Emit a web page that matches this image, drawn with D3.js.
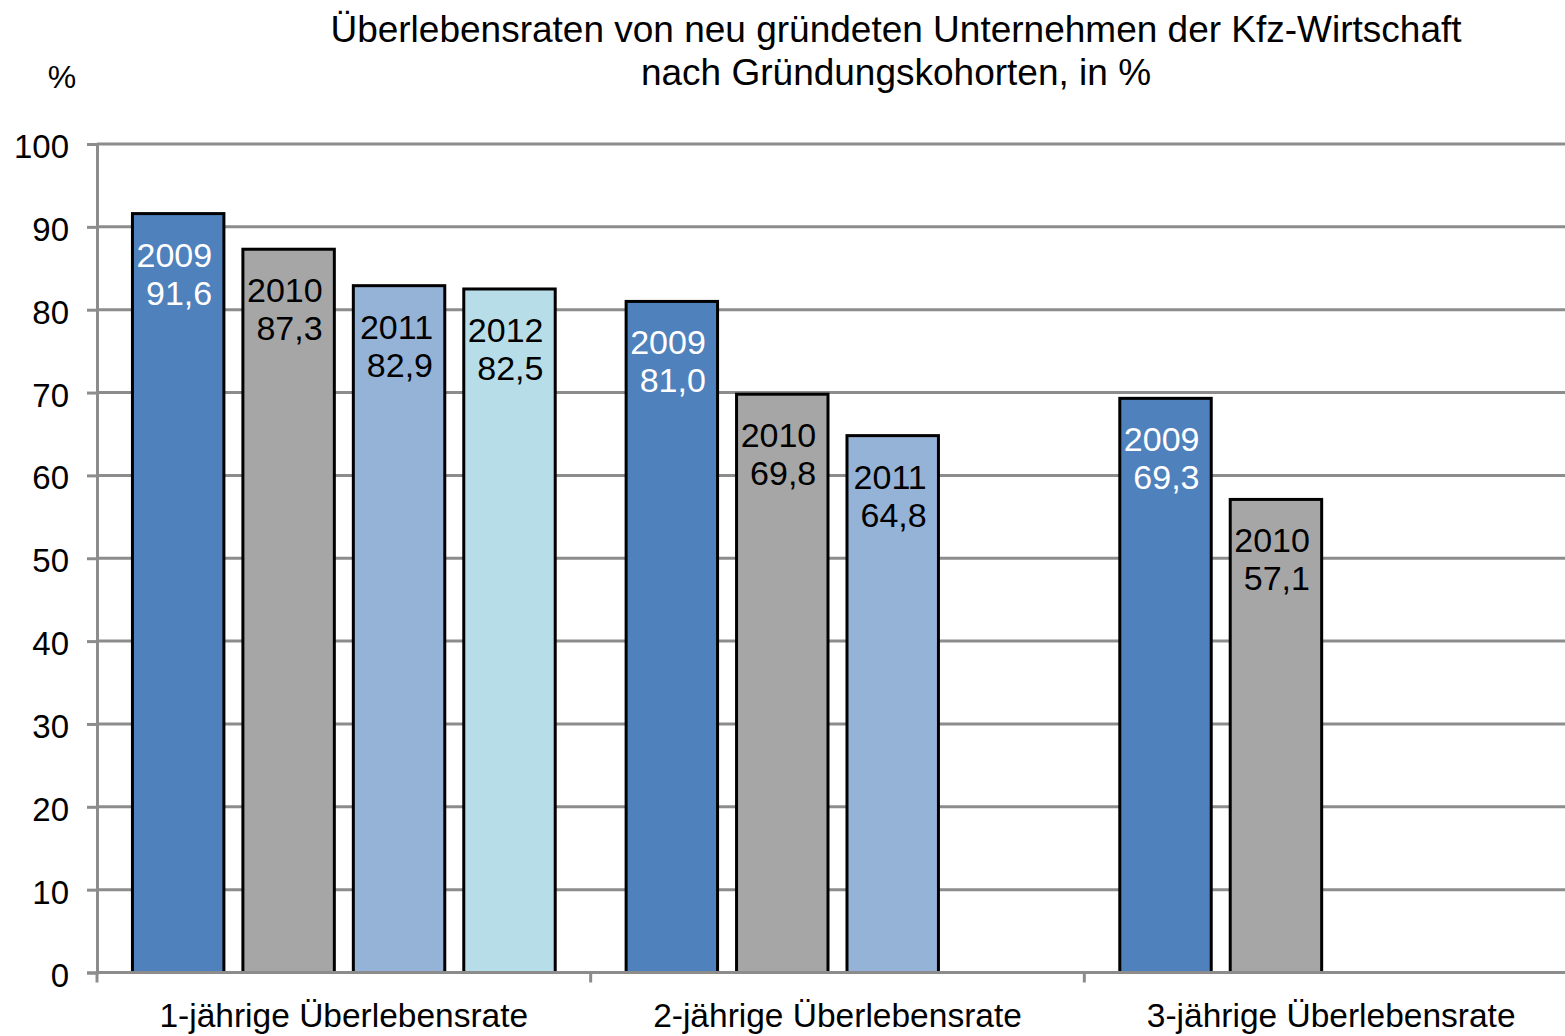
<!DOCTYPE html>
<html>
<head>
<meta charset="utf-8">
<script src="https://cdn.jsdelivr.net/npm/d3@7"></script>
<style>
    body { margin: 0; background: #fff; }
    svg { display: block; font-family: "Liberation Sans", Arial, sans-serif; }
</style>
</head>
<body>
<div id="chart"></div>
<script>
// Chart data
let categories = ["1-jährige Überlebensrate", "2-jährige Überlebensrate", "3-jährige Überlebensrate"];
let cohorts = ["2009", "2010", "2011", "2012"];
let rate2009 = [91.6, 81.0, 69.3];
let rate2010 = [87.3, 69.8, 57.1];
let rate2011 = [82.9, 64.8, null];
let rate2012 = [82.5, null, null];
let yTicks = [0, 10, 20, 30, 40, 50, 60, 70, 80, 90, 100];
let titleLines = ["Überlebensraten von neu gründeten Unternehmen der Kfz-Wirtschaft", "nach Gründungskohorten, in %"];

let colors = {"2009": "#4f81bd", "2010": "#a6a6a6", "2011": "#95b3d7", "2012": "#b7dee8"};
let labelColors = {"2009": "#ffffff", "2010": "#000000", "2011": "#000000", "2012": "#000000"};

let width = 1565, height = 1036;
let margin = {top: 144, left: 97, bottom: 64};
let plotRight = 1578;

let series = [rate2009, rate2010, rate2011, rate2012];
let bars = [];
categories.forEach(function (c, i) {
    cohorts.forEach(function (k, j) {
        if (series[j][i] !== null) {
            bars.push({category: c, cohort: k, value: series[j][i]});
        }
    });
});

let svg = d3.select("#chart")
    .append("svg")
    .attr("width", width)
    .attr("height", height);

let xScale = d3.scaleBand()
    .domain(categories)
    .range([margin.left, plotRight]);
let xInner = d3.scaleBand()
    .domain(cohorts)
    .range([0, xScale.bandwidth()])
    .paddingInner(0.172)
    .paddingOuter(0.321);
let yScale = d3.scaleLinear()
    .domain([0, 100])
    .range([972.5, margin.top]);

// Gridlines
svg.append("g")
    .selectAll("line")
    .data(yTicks.slice(1))
    .enter().append("line")
    .attr("x1", margin.left)
    .attr("x2", width)
    .attr("y1", function (d) { return yScale(d); })
    .attr("y2", function (d) { return yScale(d); })
    .attr("stroke", "#8c8c8c")
    .attr("stroke-width", 3);

// Bars
svg.append("g")
    .selectAll("rect")
    .data(bars)
    .enter().append("rect")
    .attr("x", function (d) { return xScale(d.category) + xInner(d.cohort); })
    .attr("y", function (d) { return yScale(d.value); })
    .attr("width", xInner.bandwidth())
    .attr("height", function (d) { return yScale(0) - yScale(d.value); })
    .attr("fill", function (d) { return colors[d.cohort]; })
    .attr("stroke", "#000")
    .attr("stroke-width", 3);

// Bar labels (cohort + value, right-aligned block centred in bar)
let labels = svg.append("g")
    .selectAll("text")
    .data(bars)
    .enter().append("text")
    .attr("text-anchor", "end")
    .attr("font-size", 34)
    .attr("fill", function (d) { return labelColors[d.cohort]; });
labels.append("tspan")
    .attr("x", function (d) { return xScale(d.category) + xInner(d.cohort) + xInner.bandwidth() / 2 + 34; })
    .attr("y", function (d) { return yScale(d.value) + 53; })
    .text(function (d) { return d.cohort; });
labels.append("tspan")
    .attr("x", function (d) { return xScale(d.category) + xInner(d.cohort) + xInner.bandwidth() / 2 + 34; })
    .attr("y", function (d) { return yScale(d.value) + 91; })
    .text(function (d) { return d3.format(".1f")(d.value).replace(".", ","); });

// Y axis
let yAxis = svg.append("g")
    .attr("transform", "translate(" + margin.left + ",0)")
    .call(d3.axisLeft(yScale).tickValues(yTicks).tickSize(10).tickPadding(18).tickFormat(d3.format("d")));
yAxis.select(".domain").attr("stroke", "#8c8c8c").attr("stroke-width", 3);
yAxis.selectAll(".tick line").attr("stroke", "#8c8c8c").attr("stroke-width", 3);
yAxis.selectAll(".tick text")
    .attr("font-size", 33)
    .attr("font-family", "Liberation Sans, Arial, sans-serif")
    .attr("fill", "#000")
    .attr("dy", "0.41em");

// X axis
let xAxis = svg.append("g")
    .attr("transform", "translate(0," + yScale(0) + ")");
xAxis.append("line")
    .attr("x1", margin.left)
    .attr("x2", width)
    .attr("stroke", "#8c8c8c")
    .attr("stroke-width", 3);
xAxis.selectAll(".sep")
    .data(categories.concat([null]))
    .enter().append("line")
    .attr("class", "sep")
    .attr("x1", function (d) { return d === null ? plotRight : xScale(d); })
    .attr("x2", function (d) { return d === null ? plotRight : xScale(d); })
    .attr("y1", 0)
    .attr("y2", 10)
    .attr("stroke", "#8c8c8c")
    .attr("stroke-width", 3);
xAxis.selectAll("text")
    .data(categories)
    .enter().append("text")
    .attr("x", function (d) { return xScale(d) + xScale.bandwidth() / 2; })
    .attr("y", 54)
    .attr("text-anchor", "middle")
    .attr("font-size", 33.5)
    .attr("fill", "#000")
    .text(function (d) { return d; });

// Title and unit
svg.append("g")
    .selectAll("text")
    .data(titleLines)
    .enter().append("text")
    .attr("x", 896)
    .attr("y", function (d, i) { return 42 + i * 43; })
    .attr("text-anchor", "middle")
    .attr("font-size", 37)
    .attr("fill", "#000")
    .text(function (d) { return d; });

svg.append("text")
    .attr("x", 62)
    .attr("y", 88)
    .attr("text-anchor", "middle")
    .attr("font-size", 32)
    .attr("fill", "#000")
    .text("%");
</script>
</body>
</html>
